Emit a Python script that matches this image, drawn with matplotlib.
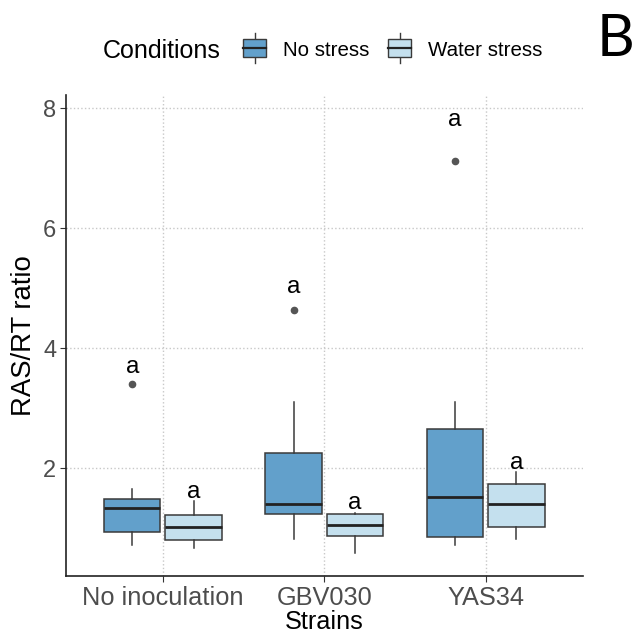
import matplotlib
matplotlib.use("Agg")
import matplotlib.pyplot as plt
from matplotlib.patches import Rectangle, Patch
from matplotlib.lines import Line2D
from matplotlib.legend_handler import HandlerBase

plt.rcParams['font.family'] = ['Liberation Sans', 'DejaVu Sans']

# ============== data ==============
strains = ['No inoculation', 'GBV030', 'YAS34']
conditions = ['No stress', 'Water stress']
colors = ['#62A0CB', '#C4E0EE']

# per condition, one value per strain
whislo = {'No stress': [0.72, 0.82, 0.72], 'Water stress': [0.67, 0.58, 0.82]}
q1 = {'No stress': [0.93, 1.23, 0.85], 'Water stress': [0.80, 0.87, 1.02]}
med = {'No stress': [1.33, 1.40, 1.52], 'Water stress': [1.02, 1.05, 1.40]}
q3 = {'No stress': [1.48, 2.25, 2.65], 'Water stress': [1.22, 1.23, 1.73]}
whishi = {'No stress': [1.65, 3.10, 3.10], 'Water stress': [1.45, 1.25, 1.93]}
fliers = {'No stress': [[3.40], [4.63], [7.13]], 'Water stress': [[], [], []]}
letters = {'No stress': ['a', 'a', 'a'], 'Water stress': ['a', 'a', 'a']}
letter_y = {'No stress': [3.68, 5.02, 7.80], 'Water stress': [1.60, 1.42, 2.08]}
# ========================================================

edge = '#3A3A3A'


class BoxKey(HandlerBase):
    # ggplot-like boxplot key: box, median line, whisker stubs
    def create_artists(self, legend, orig, xd, yd, width, height, fontsize, trans):
        cx = xd + width / 2
        w = width
        r = Rectangle((cx - w / 2, yd - height * 0.1), w, height * 1.2,
                      facecolor=orig.get_facecolor(), edgecolor=edge, lw=1.0,
                      transform=trans)
        m = Line2D([cx - w / 2, cx + w / 2], [yd + height / 2] * 2, color='#222222', lw=1.6, transform=trans)
        t = Line2D([cx, cx], [yd + height * 1.1, yd + height * 1.5], color=edge, lw=1.0, transform=trans)
        b = Line2D([cx, cx], [yd - height * 0.1, yd - height * 0.5], color=edge, lw=1.0, transform=trans)
        return [t, b, r, m]


fig = plt.figure(figsize=(6.41, 6.43), dpi=100)
ax = fig.add_axes([0.103, 0.104, 0.806, 0.748])

offsets = [-0.19, 0.19]
for k, cond in enumerate(conditions):
    stats = []
    for i in range(len(strains)):
        stats.append(dict(whislo=whislo[cond][i], q1=q1[cond][i], med=med[cond][i],
                          q3=q3[cond][i], whishi=whishi[cond][i], fliers=fliers[cond][i]))
    pos = [i + 1 + offsets[k] for i in range(len(strains))]
    ax.bxp(stats, positions=pos, widths=0.35, patch_artist=True, showcaps=False,
           boxprops=dict(facecolor=colors[k], edgecolor=edge, lw=1.1),
           medianprops=dict(color='#222222', lw=2.0),
           whiskerprops=dict(color=edge, lw=1.1),
           flierprops=dict(marker='o', markerfacecolor='#555555', markeredgecolor='#555555',
                           markersize=4.5),
           zorder=3)
    for i, p in enumerate(pos):
        ax.text(p, letter_y[cond][i], letters[cond][i], ha='center', va='center',
                fontsize=17.5, color='black', zorder=4)

ax.set_xlim(0.4, 3.6)
ax.set_ylim(0.2, 8.22)
ax.set_xticks([1, 2, 3])
ax.set_xticklabels(strains)
ax.set_yticks([2, 4, 6, 8])
ax.grid(True, ls=':', color='#C8C8C8', lw=1.0)
ax.set_axisbelow(True)
for s in ['top', 'right']:
    ax.spines[s].set_visible(False)
for s in ['left', 'bottom']:
    ax.spines[s].set_color('#222222')
    ax.spines[s].set_linewidth(1.2)
ax.tick_params(axis='x', labelsize=18.3, labelcolor='#4D4D4D', color='#333333', length=4, pad=3)
ax.tick_params(axis='y', labelsize=17, labelcolor='#4D4D4D', color='#333333', length=4, pad=3)
ax.set_xlabel('Strains', fontsize=18.2, labelpad=0)
ax.set_ylabel('RAS/RT ratio', fontsize=19.8, labelpad=4)

fig.text(0.161, 0.92, 'Conditions', fontsize=18, va='center', ha='left')
handles = [Patch(facecolor=c) for c in colors]
fig.legend(handles, conditions, handler_map={Patch: BoxKey()}, ncol=2, frameon=False,
           loc='center left', bbox_to_anchor=(0.35, 0.922), fontsize=14.8,
           handlelength=1.15, handleheight=0.75, handletextpad=0.8, columnspacing=0.9)
fig.text(0.930, 0.939, 'B', fontsize=42, va='center', ha='left', family=['Lato', 'DejaVu Sans'])

fig.savefig('out.png', dpi=100)
